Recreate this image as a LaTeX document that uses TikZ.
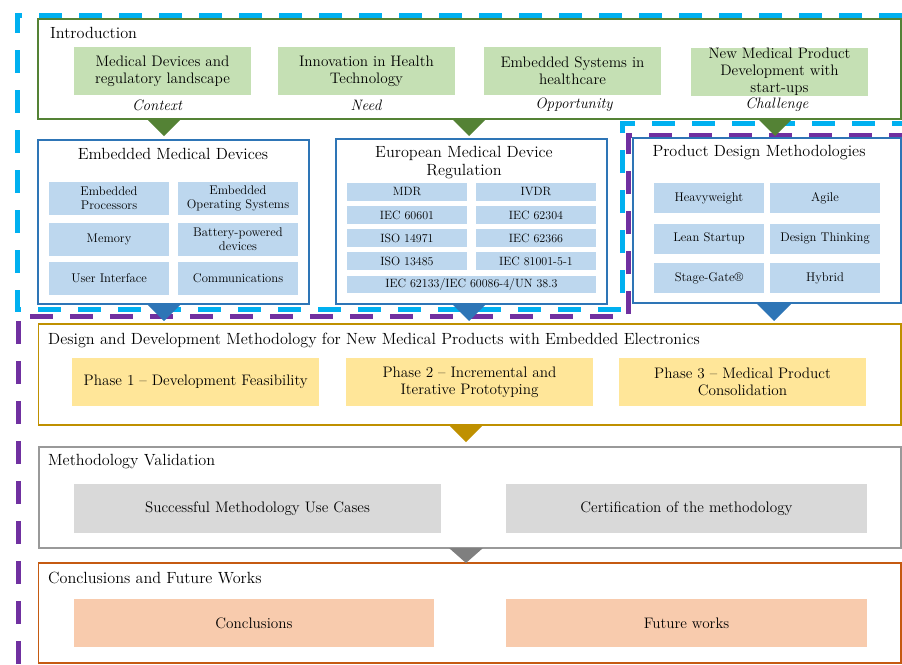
\documentclass[tikz,border=0pt]{standalone}
\usepackage{fontspec}
\setmainfont{lmroman12-regular}[Extension=.otf, ItalicFont=lmroman12-italic, BoldFont=lmroman12-bold]
\usetikzlibrary{positioning}
\definecolor{cyanl}{HTML}{00B0F0}
\definecolor{purpl}{HTML}{7030A0}
\definecolor{greenb}{HTML}{548235}
\definecolor{greenf}{HTML}{C5E0B4}
\definecolor{blueb}{HTML}{2E75B6}
\definecolor{bluef}{HTML}{BDD7EE}
\definecolor{goldb}{HTML}{BF9000}
\definecolor{yellf}{HTML}{FFE699}
\definecolor{grayb}{HTML}{999999}
\definecolor{grayf}{HTML}{D9D9D9}
\definecolor{grayt}{HTML}{7F7F7F}
\definecolor{orangeb}{HTML}{C55A11}
\definecolor{orangef}{HTML}{F8CBAD}
\newcommand{\ftitle}{\fontsize{16.2}{18}\selectfont}
\newcommand{\flabel}{\fontsize{15.1}{18}\selectfont}
\newcommand{\fcell}{\fontsize{15.2}{17}\selectfont}
\newcommand{\fsmall}{\fontsize{12.6}{14}\selectfont}
\newcommand{\fmini}{\fontsize{12}{13}\selectfont}
\tikzset{
    panelg/.style = {rectangle, line width=1.5pt, draw=greenb, fill=white},
    panelb/.style = {rectangle, line width=1.5pt, draw=blueb, fill=white},
    panely/.style = {rectangle, line width=1.5pt, draw=goldb, fill=white},
    panelgr/.style = {rectangle, line width=2pt, draw=grayb, fill=white},
    panelo/.style = {rectangle, line width=1.5pt, draw=orangeb, fill=white},
    titlel/.style = {anchor=west, inner sep=2pt, font=\ftitle, text=black},
    titlec/.style = {align=center, inner sep=0pt, font=\ftitle, text=black},
    labeli/.style = {inner sep=0pt, font=\flabel\itshape, text=black},
    cellg/.style = {rectangle, fill=greenf, align=center, minimum width=177pt, minimum height=48pt, inner sep=0pt, font=\fcell},
    cellb/.style = {rectangle, fill=bluef, align=center, minimum width=120pt, minimum height=33pt, inner sep=0pt, font=\fsmall},
    cellbs/.style = {rectangle, fill=bluef, align=center, minimum width=120pt, minimum height=18pt, inner sep=0pt, font=\fmini},
    cellbp/.style = {rectangle, fill=bluef, align=center, minimum width=110pt, minimum height=30pt, inner sep=0pt, font=\fsmall},
    celly/.style = {rectangle, fill=yellf, align=center, minimum width=247pt, minimum height=48pt, inner sep=0pt, font=\fcell},
    cellgr/.style = {rectangle, fill=grayf, align=center, minimum height=49pt, inner sep=0pt, font=\fcell},
    cello/.style = {rectangle, fill=orangef, align=center, minimum height=48pt, inner sep=0pt, font=\fcell},
    dashc/.style = {line width=5pt, cyanl, dash pattern=on 23pt off 17pt},
    dashp/.style = {line width=5pt, purpl, dash pattern=on 23pt off 17pt},
    trig/.style = {fill=greenb},
    trib/.style = {fill=blueb},
    triy/.style = {fill=goldb},
    trigr/.style = {fill=grayt}
}

\begin{document}
\begin{tikzpicture}[x=1pt,y=-1pt]
\useasboundingbox (0,0) rectangle (902,664);
\draw[dashc] (902,15) -- (17,15) -- (17,309) -- (622,309) -- (622,123) -- (902,123);
\draw[dashp] (18,664) -- (18,316) -- (628,316) -- (628,135) -- (902,135);
% introduction
\node[panelg, minimum width=863pt, minimum height=100pt] at (469.5,69) (intro) {};
\node[titlel] at (48,33) (tintro) {Introduction};
\node[cellg] at (162.5,71) (ctx) {Medical Devices and\\regulatory landscape};
\node[cellg] at (366.5,71) (need) {Innovation in Health\\Technology};
\node[cellg] at (572.5,71) (opp) {Embedded Systems in\\healthcare};
\node[cellg] at (779.5,72) (chal) {New Medical Product\\Development with\\start-ups};
\node[labeli] at (157,105) (lctx) {Context};
\node[labeli] at (366,105) (lneed) {Need};
\node[labeli] at (574,105) (lopp) {Opportunity};
\node[labeli] at (777,105) (lchal) {Challenge};
%
\node[panelb, minimum width=271pt, minimum height=164pt] at (173.5,222) (emd) {};
\node[titlec] at (173,154) (temd) {Embedded Medical Devices};
\node[cellb] at (109,198.5) (proc) {Embedded\\Processors};
\node[cellb] at (238,198.5) (os) {Embedded\\Operating Systems};
\node[cellb] at (109,239) (mem) {Memory};
\node[cellb] at (238,239) (bat) {Battery-powered\\devices};
\node[cellb] at (109,278.5) (ui) {User Interface};
\node[cellb] at (238,278.5) (com) {Communications};
%
\node[panelb, minimum width=271pt, minimum height=165pt] at (471.5,221.5) (emdr) {};
\node[titlec] at (464,163) (temdr) {European Medical Device\\Regulation};
\node[cellbs] at (407,192) (mdr) {MDR};
\node[cellbs] at (536,192) (ivdr) {IVDR};
\node[cellbs] at (407,215) (iec1) {IEC 60601};
\node[cellbs] at (536,215) (iec2) {IEC 62304};
\node[cellbs] at (407,238) (iso1) {ISO 14971};
\node[cellbs] at (536,238) (iec3) {IEC 62366};
\node[cellbs] at (407,261) (iso2) {ISO 13485};
\node[cellbs] at (536,261) (iec4) {IEC 81001-5-1};
\node[cellbs, minimum width=249pt, minimum height=17pt] at (471.5,284.5) (bats) {IEC 62133/IEC 60086-4/UN 38.3};
%
\node[panelb, minimum width=268pt, minimum height=165pt] at (767,220.5) (pdm) {};
\node[titlec] at (759,153) (tpdm) {Product Design Methodologies};
\node[cellbp] at (709,198) (heavy) {Heavyweight};
\node[cellbp] at (825,198) (agile) {Agile};
\node[cellbp] at (709,238.5) (lean) {Lean Startup};
\node[cellbp] at (825,238.5) (think) {Design Thinking};
\node[cellbp] at (709,278) (stage) {Stage-Gate®};
\node[cellbp] at (825,278) (hybrid) {Hybrid};
%
\node[panely, minimum width=862.5pt, minimum height=101pt] at (469.75,374.5) (design) {};
\node[titlel] at (46,340) (tdesign) {Design and Development Methodology for New Medical Products with Embedded Electronics};
\node[celly] at (195.75,382) (ph1) {Phase 1 -- Development Feasibility};
\node[celly] at (469.5,382) (ph2) {Phase 2 -- Incremental and\\Iterative Prototyping};
\node[celly] at (742.5,382) (ph3) {Phase 3 -- Medical Product\\Consolidation};
%
\node[panelgr, minimum width=862.5pt, minimum height=101pt] at (469.75,497.5) (valid) {};
\node[titlel] at (46,462) (tvalid) {Methodology Validation};
\node[cellgr, minimum width=367pt] at (257.5,508.5) (cases) {Successful Methodology Use Cases};
\node[cellgr, minimum width=361pt] at (686.5,508.5) (cert) {Certification of the methodology};
%
\node[panelo, minimum width=862.5pt, minimum height=100pt] at (469.75,613) (concl) {};
\node[titlel] at (46,578) (tconcl) {Conclusions and Future Works};
\node[cello, minimum width=360pt] at (254,623) (conc) {Conclusions};
\node[cello, minimum width=361pt] at (686.5,623) (fut) {Future works};
% arrows
\fill[trig] (147,119) -- (181,119) -- (164,136) -- cycle;
\fill[trig] (452,119) -- (486,119) -- (469,136) -- cycle;
\fill[trig] (758,119) -- (792,119) -- (775,136) -- cycle;
\fill[trib] (147,304) -- (181,304) -- (164,321) -- cycle;
\fill[trib] (452,304) -- (486,304) -- (469,321) -- cycle;
\fill[trib] (757,304) -- (791,304) -- (774,321) -- cycle;
\fill[triy] (449,425) -- (483,425) -- (466,442) -- cycle;
\fill[trigr] (449,548) -- (483,548) -- (466,563) -- cycle;
\end{tikzpicture}
\end{document}
